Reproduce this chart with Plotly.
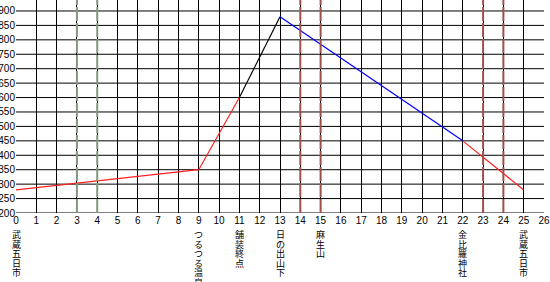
import plotly.graph_objects as go

# distance (km) and elevation (m) at each waypoint
dist = [0, 9, 11, 13, 22, 25]
elev = [280, 350, 600, 880, 450, 280]
seg_colors = ["#ff2020", "#ff2020", "#000000", "#0000ff", "#ff2020"]

# waypoint labels
label_x = [0, 9, 11, 13, 15, 22, 25]
label_text = ["武蔵五日市", "つるつる温泉", "舗装終点", "日の出山下", "麻生山", "金比羅神社", "武蔵五日市"]

# marker lines
green_lines = [3, 4]
red_lines = [14, 15, 23, 24]

# axis ticks
x_ticks = list(range(0, 27))
y_ticks = list(range(200, 901, 50))

fig = go.Figure()

for yv in y_ticks:
    fig.add_hline(y=yv, line=dict(color="black", width=1), layer="below")

for i, c in enumerate(seg_colors):
    fig.add_trace(go.Scatter(x=dist[i:i + 2], y=elev[i:i + 2], mode="lines",
                             line=dict(color=c, width=1.2), showlegend=False,
                             hoverinfo="skip"))

for xv in green_lines:
    fig.add_vline(x=xv, line=dict(color="#7f9a78", width=2, dash="14px,2px"), layer="above")
for xv in red_lines:
    fig.add_vline(x=xv, line=dict(color="#a0504a", width=2, dash="14px,2px"), layer="above")

char_step = 9.6
for xv, t in zip(label_x, label_text):
    for k, ch in enumerate(t):
        fig.add_annotation(x=xv, y=0, xref="x", yref="paper", yanchor="top", xanchor="center",
                           yshift=-14 - k * char_step, text=ch, showarrow=False,
                           font=dict(family="Noto Sans CJK JP", size=9, color="black"),
                           borderpad=0)

fig.update_layout(
    template="none",
    width=550, height=282,
    margin=dict(l=16, r=6, t=0, b=69),
    paper_bgcolor="white", plot_bgcolor="white",
    font=dict(family="Liberation Sans", size=10, color="black"),
)
fig.update_xaxes(range=[0, 26], tickmode="array", tickvals=x_ticks,
                 ticktext=[str(v) for v in x_ticks],
                 showgrid=True, gridcolor="black", gridwidth=1, zeroline=False,
                 showline=False, automargin=False, ticks="")
fig.update_yaxes(range=[200, 938], tickmode="array", tickvals=y_ticks,
                 ticktext=[str(v) for v in y_ticks],
                 showgrid=False, zeroline=False,
                 showline=False, automargin=False, ticks="")

fig.write_html("out.html")
